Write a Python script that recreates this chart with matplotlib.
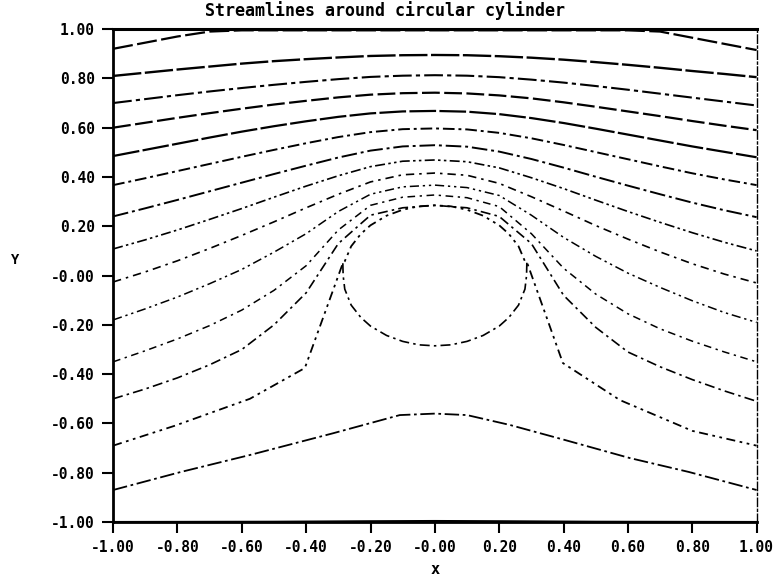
import matplotlib.pyplot as plt

xs = [-1.0, -0.9, -0.8, -0.7, -0.6, -0.5, -0.4, -0.3, -0.2, -0.1, 0.0,
      0.1, 0.2, 0.3, 0.4, 0.5, 0.6, 0.7, 0.8, 0.9, 1.0]

s1 = [0.92, 0.945, 0.97, 0.99, 0.995, 0.995, 0.995, 0.995, 0.995, 0.995, 0.995,
      0.995, 0.995, 0.995, 0.995, 0.995, 0.995, 0.99, 0.965, 0.94, 0.915]
s2 = [0.81, 0.823, 0.836, 0.848, 0.86, 0.87, 0.878, 0.885, 0.891, 0.894, 0.895,
      0.894, 0.89, 0.884, 0.876, 0.866, 0.855, 0.843, 0.83, 0.818, 0.805]
s3 = [0.70, 0.716, 0.732, 0.747, 0.761, 0.774, 0.786, 0.797, 0.806, 0.811, 0.813,
      0.811, 0.805, 0.795, 0.783, 0.769, 0.754, 0.738, 0.722, 0.706, 0.69]
s4 = [0.60, 0.62, 0.64, 0.659, 0.677, 0.694, 0.709, 0.723, 0.734, 0.74, 0.742,
      0.739, 0.731, 0.719, 0.703, 0.685, 0.666, 0.647, 0.627, 0.608, 0.59]
s5 = [0.485, 0.51, 0.535, 0.56, 0.584, 0.606, 0.626, 0.644, 0.658, 0.666, 0.668,
      0.665, 0.655, 0.639, 0.619, 0.596, 0.572, 0.548, 0.524, 0.502, 0.48]
s6 = [0.367, 0.395, 0.424, 0.453, 0.482, 0.51, 0.537, 0.562, 0.582, 0.594, 0.597,
      0.593, 0.579, 0.557, 0.53, 0.501, 0.472, 0.443, 0.415, 0.39, 0.367]
s7 = [0.24, 0.273, 0.307, 0.342, 0.377, 0.412, 0.446, 0.479, 0.507, 0.524, 0.529,
      0.523, 0.503, 0.473, 0.438, 0.401, 0.365, 0.33, 0.296, 0.265, 0.237]
s8 = [0.108, 0.145, 0.185, 0.228, 0.272, 0.318, 0.363, 0.405, 0.442, 0.464, 0.469,
      0.462, 0.437, 0.397, 0.353, 0.306, 0.26, 0.216, 0.174, 0.135, 0.10]
s9 = [-0.026, 0.015, 0.06, 0.11, 0.163, 0.218, 0.275, 0.33, 0.38, 0.409, 0.416,
      0.407, 0.374, 0.32, 0.262, 0.203, 0.148, 0.096, 0.048, 0.006, -0.03]
s10 = [-0.18, -0.135, -0.087, -0.033, 0.025, 0.095, 0.17, 0.26, 0.33, 0.36, 0.367,
       0.357, 0.325, 0.245, 0.155, 0.078, 0.01, -0.048, -0.102, -0.15, -0.19]
s11 = [-0.35, -0.305, -0.257, -0.203, -0.14, -0.06, 0.04, 0.185, 0.285, 0.318, 0.327,
       0.316, 0.28, 0.17, 0.03, -0.075, -0.155, -0.216, -0.266, -0.31, -0.35]
s12 = [-0.50, -0.46, -0.415, -0.362, -0.30, -0.2, -0.07, 0.13, 0.245, 0.275, 0.285,
       0.275, 0.24, 0.13, -0.08, -0.21, -0.31, -0.37, -0.422, -0.468, -0.51]

# dividing streamline: comes in from the left, runs over the cylinder top, leaves right
div_x = [-1.0, -0.81, -0.575, -0.404, -0.286, -0.28, -0.26, -0.23, -0.2, -0.15, -0.1, -0.05, 0.0,
         0.05, 0.1, 0.15, 0.2, 0.23, 0.26, 0.28, 0.286, 0.398, 0.575, 0.8, 1.0]
div_y = [-0.69, -0.61, -0.50, -0.375, 0.05, 0.058, 0.119, 0.169, 0.204, 0.243, 0.267, 0.281, 0.285,
         0.281, 0.267, 0.243, 0.204, 0.169, 0.119, 0.058, 0.055, -0.355, -0.505, -0.63, -0.69]

# lower half of the cylinder
cyl_x = [-0.286, -0.285, -0.28, -0.26, -0.23, -0.2, -0.15, -0.1, -0.05, 0.0,
         0.05, 0.1, 0.15, 0.2, 0.23, 0.26, 0.28, 0.285, 0.286]
cyl_y = [0.05, 0.0, -0.055, -0.12, -0.17, -0.205, -0.243, -0.267, -0.281, -0.285,
         -0.281, -0.267, -0.243, -0.205, -0.17, -0.12, -0.055, 0.0, 0.055]

low_x = [-1.0, -0.79, -0.575, -0.317, -0.109, 0.0, 0.1, 0.233, 0.404, 0.605, 0.79, 1.0]
low_y = [-0.87, -0.797, -0.728, -0.64, -0.566, -0.56, -0.566, -0.606, -0.667, -0.74, -0.797, -0.87]

bot_x = [-1.0, -0.5, -0.2, 0.0, 0.2, 0.5, 1.0]
bot_y = [-1.0, -0.999, -0.997, -0.996, -0.997, -0.999, -1.0]

ticks = [-1.0, -0.8, -0.6, -0.4, -0.2, 0.0, 0.2, 0.4, 0.6, 0.8, 1.0]
xlabels = ['-1.00', '-0.80', '-0.60', '-0.40', '-0.20', '-0.00', '0.20', '0.40', '0.60', '0.80', '1.00']
ylabels = ['-1.00', '-0.80', '-0.60', '-0.40', '-0.20', '-0.00', '0.20', '0.40', '0.60', '0.80', '1.00']

fig = plt.figure(figsize=(7.8, 5.82), dpi=100)
ax = fig.add_axes([0.145, 0.103, 0.825, 0.847])

styles = [
    (s1, (0, (9, 2)), 1.6),
    (s2, (0, (12, 1.5)), 1.7),
    (s3, (0, (9, 2, 2, 2)), 1.5),
    (s4, (0, (8, 2)), 1.6),
    (s5, (0, (12, 1.5)), 1.6),
    (s6, (0, (6, 2, 1.5, 2)), 1.4),
    (s7, (0, (8, 2, 1.5, 2)), 1.4),
    (s8, (0, (6, 2, 1.5, 2, 1.5, 2)), 1.2),
    (s9, (0, (5, 3, 1.5, 3)), 1.2),
    (s10, (0, (6, 2.5, 1.5, 2.5, 1.5, 2.5)), 1.1),
    (s11, (0, (5, 3, 1.5, 3)), 1.1),
    (s12, (0, (6, 2.5, 1.5, 2.5)), 1.2),
]
for ys, ls, lw in styles:
    ax.plot(xs, ys, color='black', linestyle=ls, linewidth=lw)

ax.plot(div_x, div_y, color='black', linestyle=(0, (5, 2.5, 1.5, 2.5, 1.5, 2.5)), linewidth=1.3)
ax.plot(cyl_x, cyl_y, color='black', linestyle=(0, (6, 2.5, 1.5, 2.5)), linewidth=1.2)
ax.plot(low_x, low_y, color='black', linestyle=(0, (8, 2, 1.5, 2)), linewidth=1.3)
ax.plot(bot_x, bot_y, color='black', linestyle='-', linewidth=1.6)

ax.set_xlim(-1, 1)
ax.set_ylim(-1, 1)
ax.set_xticks(ticks)
ax.set_xticklabels(xlabels)
ax.set_yticks(ticks)
ax.set_yticklabels(ylabels)

for lab in ax.get_xticklabels() + ax.get_yticklabels():
    lab.set_fontfamily('DejaVu Sans Mono')
    lab.set_fontweight('bold')
    lab.set_fontsize(10.5)

ax.tick_params(direction='out', length=8, width=1.5, pad=5)
ax.spines['left'].set_linewidth(2)
ax.spines['bottom'].set_linewidth(2)
ax.spines['top'].set_linewidth(2.2)
ax.spines['right'].set_linewidth(1)
ax.spines['right'].set_linestyle((0, (6, 2, 1.5, 2)))

fig.text(385 / 780, 1 - 11 / 582, 'Streamlines around circular cylinder', ha='center', va='center',
         family='DejaVu Sans Mono', weight='bold', fontsize=12)
fig.text(15 / 780, 1 - 260 / 582, 'Y', ha='center', va='center',
         family='DejaVu Sans Mono', weight='bold', fontsize=10)
fig.text(435 / 780, 1 - 570 / 582, 'x', ha='center', va='center',
         family='DejaVu Sans Mono', weight='bold', fontsize=11)

fig.savefig('out.png', dpi=100, facecolor='white')
